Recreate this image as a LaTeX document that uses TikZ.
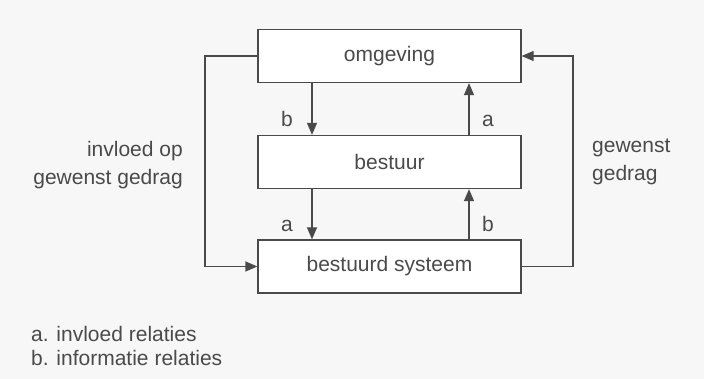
\documentclass[tikz,border=0pt]{standalone}
\usepackage{fontspec}
\setmainfont{Liberation Sans}
\usetikzlibrary{arrows.meta}
\definecolor{inkgray}{HTML}{4A4A4A}
\definecolor{papergray}{HTML}{F7F7F7}
\tikzset{
  blok/.style={draw=inkgray, line width=1.3pt, fill=white, minimum width=263pt,
    minimum height=53pt, inner sep=0pt, text=inkgray, font=\fontsize{21}{25}\selectfont},
  pijl/.style={draw=inkgray, line width=1.3pt, -{Triangle[length=12pt,width=10pt]}},
  letter/.style={text=inkgray, inner sep=0pt, anchor=base, font=\fontsize{21}{25}\selectfont},
  uitleg/.style={text=inkgray, inner sep=0pt, font=\fontsize{21}{28}\selectfont}
}
\begin{document}
\begin{tikzpicture}[x=1pt, y=-1pt]
            \fill[papergray] (0, 0) rectangle (704, 379);
            \useasboundingbox (0, 0) rectangle (704, 379);
       %     %%boxes
            \node[blok] (omg) at(389.5, 56){omgeving};
            \node[blok] (best) at(389.5, 162){bestuur};
            \node[blok] (sys) at(389.5, 266.5){bestuurd systeem};

            \coordinate (lx) at(312, 0);
            \coordinate (rx) at(469, 0);
            \coordinate (ll) at(205, 0);
            \coordinate (rl) at(573, 0);

       %     %%middle arrows
            \draw[pijl](omg.south -| lx) to (best.north -| lx);
            \draw[pijl](best.north -| rx) to (omg.south -| rx);
            \draw[pijl](best.south -| lx) to (sys.north -| lx);
            \draw[pijl](sys.north -| rx) to (best.south -| rx);

            \node[letter] (b1) at(287, 127){b};
            \node[letter] (a1) at(488, 127){a};
            \node[letter] (a2) at(287, 232){a};
            \node[letter] (b2) at(488, 232){b};

       %     %%loops
            \draw[pijl](omg.west) -- (omg.west -| ll) -- (sys.west -| ll) -- (sys.west);
            \draw[pijl](sys.east) -- (sys.east -| rl) -- (omg.east -| rl) -- (omg.east);

            \node[uitleg, align=right, anchor=east] (links) at(183, 165){invloed op\\gewenst gedrag};
            \node[uitleg, align=left, anchor=west] (rechts) at(592, 162){gewenst\\gedrag};

       %     %%legend
            \node[uitleg, align=left, anchor=west, font=\fontsize{21}{24}\selectfont] (legenda) at(31, 346){a. invloed relaties\\b. informatie relaties};
        \end{tikzpicture}
\end{document}
